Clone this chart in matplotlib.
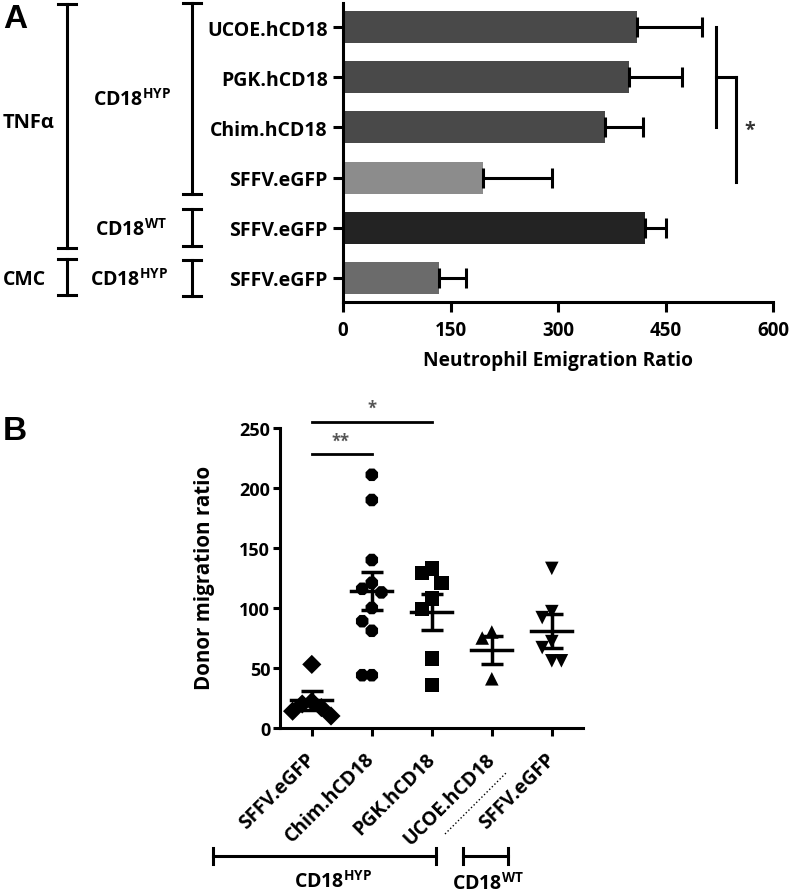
import numpy as np
import matplotlib
matplotlib.use('Agg')
import matplotlib.pyplot as plt

plt.rcParams['font.family'] = ['Open Sans', 'DejaVu Sans']
plt.rcParams['font.weight'] = 'bold'

# ---- panel A : neutrophil emigration ratio (mean + error) ----
a_labels = ['UCOE.hCD18', 'PGK.hCD18', 'Chim.hCD18', 'SFFV.eGFP', 'SFFV.eGFP', 'SFFV.eGFP']
a_means = [410, 399, 365, 195, 421, 134]
a_err = [91, 74, 53, 96, 29, 38]
a_colors = ['#494949', '#494949', '#494949', '#8c8c8c', '#232323', '#6b6b6b']

# ---- panel B : donor migration ratio, individual mice ----
b_labels = ['SFFV.eGFP', 'Chim.hCD18', 'PGK.hCD18', 'UCOE.hCD18', 'SFFV.eGFP']
sffv_hyp = [53, 22, 20, 17, 14, 10]
chim = [211, 190, 140, 121, 116, 113, 100, 89, 81, 44, 44]
pgk = [133, 129, 121, 108, 99, 58, 36]
ucoe = [80, 75, 41]
sffv_wt = [133, 97, 92, 72, 67, 56, 56]
b_means = [23, 114, 97, 65, 81]
b_sem = [8, 16, 15, 12, 14]
b_markers = ['D', '8', 's', '^', 'v']

W, H = 792, 895
fig = plt.figure(figsize=(W / 100, H / 100), dpi=100)


def fx(px):
    return px / W


def fy(py):
    return 1 - py / H


def fline(xs, ys, **kw):
    fig.add_artist(plt.Line2D([fx(x) for x in xs], [fy(y) for y in ys],
                              color='black', **kw))


def fbracket_v(x, y0, y1, cap=9, lw=2.2):
    fline([x, x], [y0, y1], lw=lw)
    fline([x - cap, x + cap], [y0, y0], lw=lw)
    fline([x - cap, x + cap], [y1, y1], lw=lw)


def fbracket_h(x0, x1, y, cap=9, lw=2.2):
    fline([x0, x1], [y, y], lw=lw)
    fline([x0, x0], [y - cap, y + cap], lw=lw)
    fline([x1, x1], [y - cap, y + cap], lw=lw)


# ================= A =================
axA = fig.add_axes([fx(343), fy(303), 430 / W, 299 / H])
pos = np.arange(len(a_labels))[::-1]
axA.barh(pos, a_means, height=0.64, color=a_colors,
         xerr=[np.zeros(len(a_err)), a_err],
         error_kw=dict(ecolor='black', elinewidth=2.2, capsize=7, capthick=2.2))
axA.set_xlim(0, 600)
axA.set_ylim(-0.48, 5.48)
axA.set_xticks([0, 150, 300, 450, 600])
axA.set_yticks(pos)
axA.set_yticklabels(a_labels)
for s in ['top', 'right']:
    axA.spines[s].set_visible(False)
for s in ['left', 'bottom']:
    axA.spines[s].set_linewidth(2.2)
axA.tick_params(axis='x', length=7, width=2.2, labelsize=13.5, pad=6)
axA.tick_params(axis='y', length=7, width=2.2, labelsize=14, pad=4)
axA.set_xlabel('Neutrophil Emigration Ratio', fontsize=13.8, fontweight='bold')
axA.xaxis.set_label_coords(0.5, -0.16)

# significance bracket
axA.plot([520, 520], [5, 3], color='black', lw=2.2)
axA.plot([520, 548], [4, 4], color='black', lw=2.2)
axA.plot([548, 548], [4, 1.92], color='black', lw=2.2)
axA.text(567, 2.95, '*', fontsize=14, color='#333333', ha='center', va='center')

# grouping brackets on the left
fbracket_v(192, 4, 195)
fbracket_v(192, 210, 247)
fbracket_v(192, 261, 297)
fbracket_v(67, 5, 249)
fbracket_v(67, 260, 296)
fig.text(fx(132), fy(100), r'CD18$^{\mathregular{HYP}}$', ha='center', va='center', fontsize=14)
fig.text(fx(131), fy(230), r'CD18$^{\mathregular{WT}}$', ha='center', va='center', fontsize=14)
fig.text(fx(129), fy(280), r'CD18$^{\mathregular{HYP}}$', ha='center', va='center', fontsize=14)
fig.text(fx(3), fy(123), 'TNFα', ha='left', va='center', fontsize=14.5)
fig.text(fx(3), fy(280), 'CMC', ha='left', va='center', fontsize=14)

fig.text(fx(3), fy(20), 'A', family='Liberation Sans', fontsize=24,
         fontweight='bold', ha='left', va='center')

# ================= B =================
axB = fig.add_axes([fx(280), fy(729), 303 / W, 300 / H])
axB.set_xlim(-0.53, 4.52)
axB.set_ylim(0, 250)


def swarm(vals, step=0.16, gap=15):
    offs = []
    placed = []
    for v in vals:
        for k in [0, -1, 1, -2, 2, -3, 3]:
            if all(abs(v - pv) >= gap for pv, pk in placed if pk == k):
                break
        placed.append((v, k))
        offs.append(k * step)
    return np.array(offs)


groups = [sffv_hyp, chim, pgk, ucoe, sffv_wt]
for i, g in enumerate(groups):
    xs = i + swarm(g)
    axB.scatter(xs, g, marker=b_markers[i], s=95 if b_markers[i] != 's' else 110,
                color='black', edgecolors='none', clip_on=False, zorder=3)
    m, e = b_means[i], b_sem[i]
    axB.plot([i - 0.34, i + 0.34], [m, m], color='black', lw=2.5, zorder=4)
    axB.errorbar([i], [m], yerr=[[e], [e]], fmt='none', ecolor='black',
                 elinewidth=2.5, capsize=8, capthick=2.5, zorder=4)

axB.set_yticks([0, 50, 100, 150, 200, 250])
axB.set_xticks(range(5))
axB.set_xticklabels(b_labels, rotation=45, ha='right', va='center',
                    rotation_mode='anchor')
for s in ['top', 'right']:
    axB.spines[s].set_visible(False)
for s in ['left', 'bottom']:
    axB.spines[s].set_linewidth(2.2)
axB.tick_params(axis='y', length=5, width=2.2, labelsize=13, pad=2)
axB.tick_params(axis='x', length=6, width=2.2, labelsize=14, pad=14)
axB.set_ylabel('Donor migration ratio', fontsize=14.8, fontweight='bold')
axB.yaxis.set_label_coords(-0.215, 0.505)

# significance
axB.plot([0, 1], [228, 228], color='black', lw=2, clip_on=False)
axB.text(0.47, 232, '**', fontsize=12, color='#555555', ha='center', va='bottom')
axB.plot([0, 2], [255, 255], color='black', lw=2, clip_on=False)
axB.text(1, 259, '*', fontsize=12, color='#555555', ha='center', va='bottom')

# dotted separator between hypomorphic and wild-type labels
fline([445, 507], [835, 773], lw=1, ls=':')

# group brackets under the axis
fbracket_h(213, 436, 857, cap=8)
fbracket_h(463, 508, 857, cap=8)
fig.text(fx(333), fy(882), r'CD18$^{\mathregular{HYP}}$', ha='center', va='center', fontsize=14)
fig.text(fx(488), fy(884), r'CD18$^{\mathregular{WT}}$', ha='center', va='center', fontsize=14)

fig.text(fx(3), fy(432), 'B', family='Liberation Sans', fontsize=24,
         fontweight='bold', ha='left', va='center')

fig.savefig('out.png', dpi=100)
